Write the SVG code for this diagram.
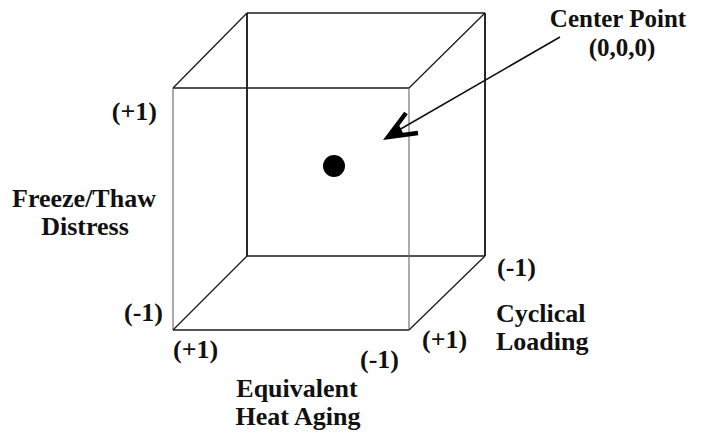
<svg xmlns="http://www.w3.org/2000/svg" width="702" height="445" viewBox="0 0 702 445">
<style>
text { font-family: "Liberation Serif", "Times New Roman", serif; font-size: 26px; font-weight: bold; fill: #111; }
.e { stroke: #1a1a1a; stroke-width: 1.3; fill: none; }
.f { stroke: #666; stroke-width: 1.1; fill: none; }
.b { stroke: #111; stroke-width: 1.8; fill: none; }
</style>
<rect width="702" height="445" fill="#fff"/>
<g id="cube">
  <line class="e" x1="247" y1="13" x2="485" y2="13"/>
  <line class="e" x1="247" y1="256" x2="485" y2="256"/>
  <line class="b" x1="247" y1="13" x2="247" y2="256"/>
  <line class="b" x1="485" y1="13" x2="485" y2="256"/>
  <line class="e" x1="173" y1="88" x2="409" y2="88"/>
  <line class="e" x1="173" y1="330" x2="409" y2="330"/>
  <line class="f" x1="173" y1="88" x2="173" y2="330"/>
  <line class="f" x1="409" y1="88" x2="409" y2="330"/>
  <line class="e" x1="173" y1="88" x2="247" y2="13"/>
  <line class="e" x1="409" y1="88" x2="485" y2="13"/>
  <line class="e" x1="173" y1="330" x2="247" y2="256"/>
  <line class="e" x1="409" y1="330" x2="485" y2="256"/>
</g>
<g id="center-dot">
  <circle cx="334" cy="166" r="11" fill="#000"/>
</g>
<g id="connectors">
  <line x1="560" y1="37" x2="392" y2="134" stroke="#111" stroke-width="1.6"/>
  <path d="M406,113 L388,137 L418,133" fill="none" stroke="#000" stroke-width="4.5" stroke-linejoin="miter"/>
  <polygon points="386,139 398,123 404,135" fill="#000"/>
</g>
<g id="label-center">
  <text x="618" y="27" text-anchor="middle" style="font-size:25px">Center Point</text>
  <text x="622" y="56" text-anchor="middle" style="font-size:25px">(0,0,0)</text>
</g>
<g id="label-freeze">
  <text x="157" y="120" text-anchor="end">(+1)</text>
  <text x="84" y="207" text-anchor="middle">Freeze/Thaw</text>
  <text x="85" y="235" text-anchor="middle">Distress</text>
  <text x="163" y="321" text-anchor="end">(-1)</text>
</g>
<g id="label-heat">
  <text x="173" y="358">(+1)</text>
  <text x="360" y="368">(-1)</text>
  <text x="297" y="397" text-anchor="middle">Equivalent</text>
  <text x="298" y="425" text-anchor="middle">Heat Aging</text>
</g>
<g id="label-cyclical">
  <text x="497" y="276">(-1)</text>
  <text x="422" y="348">(+1)</text>
  <text x="496" y="322">Cyclical</text>
  <text x="496" y="350">Loading</text>
</g>
</svg>
